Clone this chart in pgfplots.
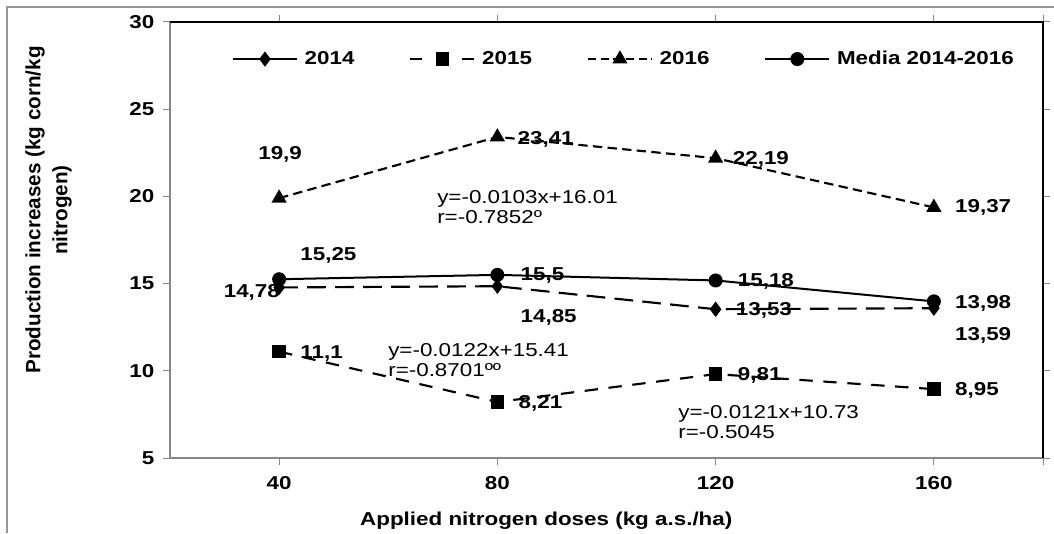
\documentclass[border=0pt]{standalone}
\usepackage{fontspec}
\setmainfont{Liberation Sans}[FakeStretch=1.2]
\newfontfamily\ylabfont{Liberation Sans}
\usepackage{pgfplots}
\pgfplotsset{compat=1.18}
\definecolor{axgrey}{RGB}{134,134,134}
\definecolor{framegrey}{RGB}{150,150,150}

\newcommand{\labW}[5]{\node[anchor=west,inner sep=0pt,font=\fontsize{14}{16}\selectfont\bfseries] at (axis cs:#1,#2) [xshift=#3*0.75pt,yshift=-#4*0.75pt] {#5};}
\newcommand{\labE}[5]{\node[anchor=east,inner sep=0pt,font=\fontsize{14}{16}\selectfont\bfseries] at (axis cs:#1,#2) [xshift=#3*0.75pt,yshift=-#4*0.75pt] {#5};}
\newcommand{\labC}[5]{\node[anchor=center,inner sep=0pt,font=\fontsize{14}{16}\selectfont\bfseries] at (axis cs:#1,#2) [xshift=#3*0.75pt,yshift=-#4*0.75pt] {#5};}

\begin{document}
\begin{tikzpicture}
\begin{axis}[
  at={(127.5pt,56.25pt)}, anchor=south west,
  scale only axis, width=654.75pt, height=327pt,
  xmin=-0.5, xmax=3.5, ymin=5, ymax=30,
  xtick={0,1,2,3}, xticklabels={40,80,120,160},
  extra x ticks={3.5}, extra x tick labels={},
  ytick={5,10,15,20,25,30},
  tick align=outside, major tick length=5.25pt,
  tick style={axgrey, line width=0.75pt},
  axis line style={axgrey, line width=1pt},
  font=\fontsize{14}{16}\selectfont\bfseries,
  tick label style={font=\fontsize{14}{16}\selectfont\bfseries},
  xticklabel style={yshift=-5pt},
  yticklabel style={xshift=-3pt},
  /pgf/number format/assume math mode=true,
  clip=false,
  xlabel={Applied nitrogen doses (kg a.s./ha)},
  every axis x label/.style={at={(axis description cs:0.431,-0.1537)}, anchor=base, font=\fontsize{14}{16}\selectfont\bfseries},
  ylabel={Production increases (kg corn/kg\\nitrogen)},
  every axis y label/.style={at={(axis description cs:-0.1392,0.569)}, rotate=90, anchor=center, align=center, font=\ylabfont\fontsize{15.5}{20.25}\selectfont\bfseries},
  legend columns=4,
  legend cell align=left,
  legend image code/.code={\draw[mark repeat=2,mark phase=2] plot coordinates {(0pt,0pt) (24pt,0pt) (48pt,0pt)};},
  legend style={at={(axis description cs:0.071,0.915)}, anchor=west, draw=none, fill=none,
    inner sep=0pt, outer sep=0pt, column sep=0pt, row sep=0pt,
    font=\fontsize{14}{16}\selectfont\bfseries,
    cells={anchor=west, inner sep=0pt},
    /tikz/every odd column/.append style={column sep=3pt},
    /tikz/every even column/.append style={column sep=39.15pt}},
]
% plot area border (top, right)
\draw[black, line width=0.9pt] (rel axis cs:0,1) -- (rel axis cs:1,1) -- (rel axis cs:1,0);

% 2014
\addplot[forget plot, black, line width=1.6pt, dash pattern=on 14pt off 7pt, mark=diamond*, mark size=4.5pt, mark options={solid}]
  coordinates {(0,14.78) (1,14.85) (2,13.53) (3,13.59)};
% 2015
\addplot[forget plot, black, line width=1.6pt, dash pattern=on 10pt off 8pt, mark=square*, mark size=4.2pt, mark options={solid}]
  coordinates {(0,11.1) (1,8.21) (2,9.81) (3,8.95)};
% 2016
\addplot[forget plot, black, line width=1.6pt, dash pattern=on 7pt off 4pt, mark=triangle*, mark size=5pt, mark options={solid}]
  coordinates {(0,19.9) (1,23.41) (2,22.19) (3,19.37)};
% Media
\addplot[forget plot, black, line width=1.5pt, mark=*, mark size=4.5pt, mark options={solid}]
  coordinates {(0,15.25) (1,15.5) (2,15.18) (3,13.98)};

\addlegendimage{black, line width=1.5pt, mark=diamond*, mark size=4.5pt}
\addlegendentry{2014}
\addlegendimage{black, line width=1.6pt, dash pattern=on 9pt off 30pt, mark=square*, mark size=4.2pt, mark options={solid}}
\addlegendentry{2015}
\addlegendimage{black, line width=1.6pt, dash pattern=on 6pt off 3.5pt, mark=triangle*, mark size=5pt, mark options={solid}}
\addlegendentry{2016}
\addlegendimage{black, line width=1.5pt, mark=*, mark size=4.5pt}
\addlegendentry{Media 2014-2016}

% data labels: 2016
\labC{0}{19.9}{1}{-44}{19,9}
\labW{1}{23.41}{20}{2}{23,41}
\labW{2}{22.19}{17}{1}{22,19}
\labW{3}{19.37}{21}{0}{19,37}
% Media
\labW{0}{15.25}{21}{-24}{15,25}
\labW{1}{15.5}{23}{1}{15,5}
\labW{2}{15.18}{22}{1}{15,18}
\labW{3}{13.98}{21}{2}{13,98}
% 2014
\labE{0}{14.78}{1}{4.5}{14,78}
\labW{1}{14.85}{23}{31}{14,85}
\labW{2}{13.53}{20}{1}{13,53}
\labW{3}{13.59}{21}{27}{13,59}
% 2015
\labW{0}{11.1}{21}{1.5}{11,1}
\labW{1}{8.21}{21}{1.5}{8,21}
\labW{2}{9.81}{22}{1}{9,81}
\labW{3}{8.95}{21}{1}{8,95}

% regression equations (anchor base = baseline of the last line)
\node[anchor=base west, inner sep=0pt, align=left, font=\fontsize{14}{15}\selectfont] at (axis cs:0.7234,18.45) {y=-0.0103x+16.01\\r=-0.7852º};
\node[anchor=base west, inner sep=0pt, align=left, font=\fontsize{14}{15}\selectfont] at (axis cs:0.499,9.70) {y=-0.0122x+15.41\\r=-0.8701ºº};
\node[anchor=base west, inner sep=0pt, align=left, font=\fontsize{14}{15}\selectfont] at (axis cs:1.828,6.13) {y=-0.0121x+10.73\\r=-0.5045};
\end{axis}
\draw[framegrey, line width=1.5pt] (5.25pt,0pt) -- (5.25pt,394.5pt) -- (790.5pt,394.5pt);
\pgfresetboundingbox
\path[use as bounding box] (0pt,0pt) rectangle (790.5pt,399.75pt);
\end{tikzpicture}
\end{document}
